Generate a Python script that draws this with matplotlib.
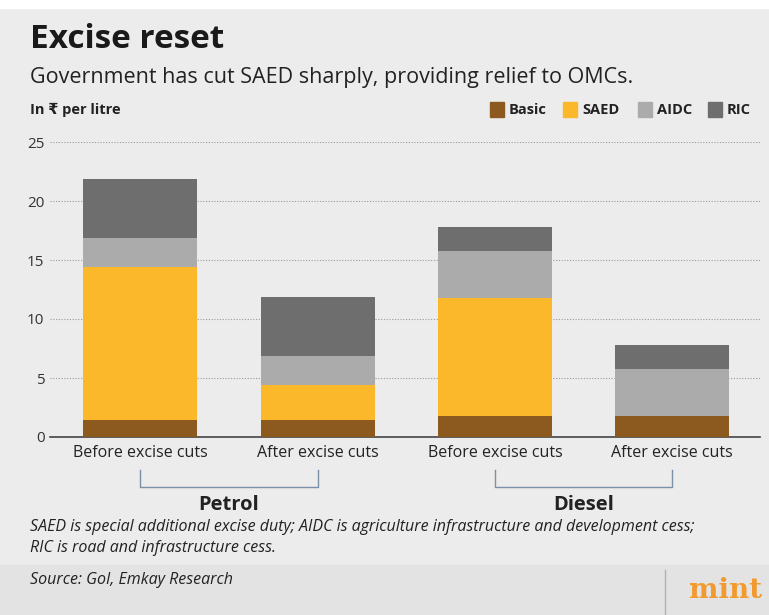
import numpy as np
import matplotlib.pyplot as plt

plt.rcParams['font.family'] = ['Liberation Sans Narrow', 'Open Sans', 'DejaVu Sans']

categories = ['Before excise cuts', 'After excise cuts', 'Before excise cuts', 'After excise cuts']
groups = ['Petrol', 'Diesel']
basic = [1.4, 1.4, 1.8, 1.8]
saed = [13.0, 3.0, 10.0, 0.0]
aidc = [2.5, 2.5, 4.0, 4.0]
ric = [5.0, 5.0, 2.0, 2.0]
components = ['Basic', 'SAED', 'AIDC', 'RIC']
colors = ['#8c5a1f', '#fbb82a', '#ababab', '#6e6e6e']

W, H = 769, 615
fig = plt.figure(figsize=(W / 100, H / 100), dpi=100)
fig.patch.set_facecolor('#ececec')

# white strip on top and footer band
fig.patches.append(plt.Rectangle((0, 1 - 8 / H), 1, 8 / H, transform=fig.transFigure,
                                 color='white', zorder=0))
fig.patches.append(plt.Rectangle((0, 0), 1, 50 / H, transform=fig.transFigure,
                                 color='#e3e3e3', zorder=0))
fig.lines.append(plt.Line2D([665 / W, 665 / W], [0, 45 / H], transform=fig.transFigure,
                            color='#b0b0b0', lw=1))


def px(x, y):
    return x / W, 1 - y / H


ax = fig.add_axes([50 / W, (H - 437) / H, (760 - 50) / W, (437 - 142) / H])
ax.set_facecolor('#ececec')

x = np.array([140, 318, 495, 672])
bottom = np.zeros(4)
for vals, c in zip([basic, saed, aidc, ric], colors):
    ax.bar(x, vals, width=114, bottom=bottom, color=c, zorder=3)
    bottom += np.array(vals)

ax.set_xlim(50, 760)
ax.set_ylim(0, 25)
ax.set_yticks([0, 5, 10, 15, 20, 25])
ax.yaxis.grid(True, linestyle=(0, (1, 1.5)), color='#9a9a9a', lw=0.8, zorder=0)
ax.set_xticks(x)
ax.set_xticklabels(categories, fontsize=11.5, color='#222222')
ax.tick_params(axis='x', length=0, pad=6)
ax.tick_params(axis='y', length=0, pad=4, labelsize=11, labelcolor='#333333')
for s in ['top', 'right', 'left']:
    ax.spines[s].set_visible(False)
ax.spines['bottom'].set_color('#444444')
ax.spines['bottom'].set_linewidth(1.2)

# group brackets
for i, g in enumerate(groups):
    x0, x1 = x[2 * i], x[2 * i + 1]
    fig.lines.append(plt.Line2D([x0 / W, x0 / W, x1 / W, x1 / W],
                                [1 - 470 / H, 1 - 487 / H, 1 - 487 / H, 1 - 470 / H],
                                transform=fig.transFigure, color='#7a8fa8', lw=1))
    fig.text((x0 + x1) / 2 / W, 1 - 505 / H, g, ha='center', va='center',
             fontsize=14.5, fontweight='bold', color='#222222')

fig.text(*px(30, 40), 'Excise reset', fontsize=24, fontweight='bold', va='center', color='#1a1a1a')
fig.text(*px(30, 78), 'Government has cut SAED sharply, providing relief to OMCs.',
         fontsize=15.5, va='center', color='#222222')
fig.text(*px(30, 110), 'In ₹ per litre', fontsize=10.5, fontweight='bold', va='center',
         color='#222222')

# legend
leg_x = [490, 563, 638, 708]
for lx, name, c in zip(leg_x, components, colors):
    fig.patches.append(plt.Rectangle(px(lx, 117), 14 / W, 15 / H, transform=fig.transFigure,
                                     color=c))
    fig.text(*px(lx + 19, 110), name, fontsize=10.5, fontweight='bold', va='center',
             color='#222222')

fig.text(*px(30, 527), 'SAED is special additional excise duty; AIDC is agriculture infrastructure '
         'and development cess;', fontsize=11.5, style='italic', va='center', color='#222222')
fig.text(*px(30, 548), 'RIC is road and infrastructure cess.', fontsize=11.5, style='italic',
         va='center', color='#222222')
fig.text(*px(30, 580), 'Source: GoI, Emkay Research', fontsize=11.5, style='italic', va='center',
         color='#222222')
fig.text(*px(762, 590), 'mint', fontsize=20, fontweight='bold', family='DejaVu Serif',
         ha='right', va='center', color='#f29a2e')

fig.savefig('out.png', dpi=100, facecolor=fig.get_facecolor())
